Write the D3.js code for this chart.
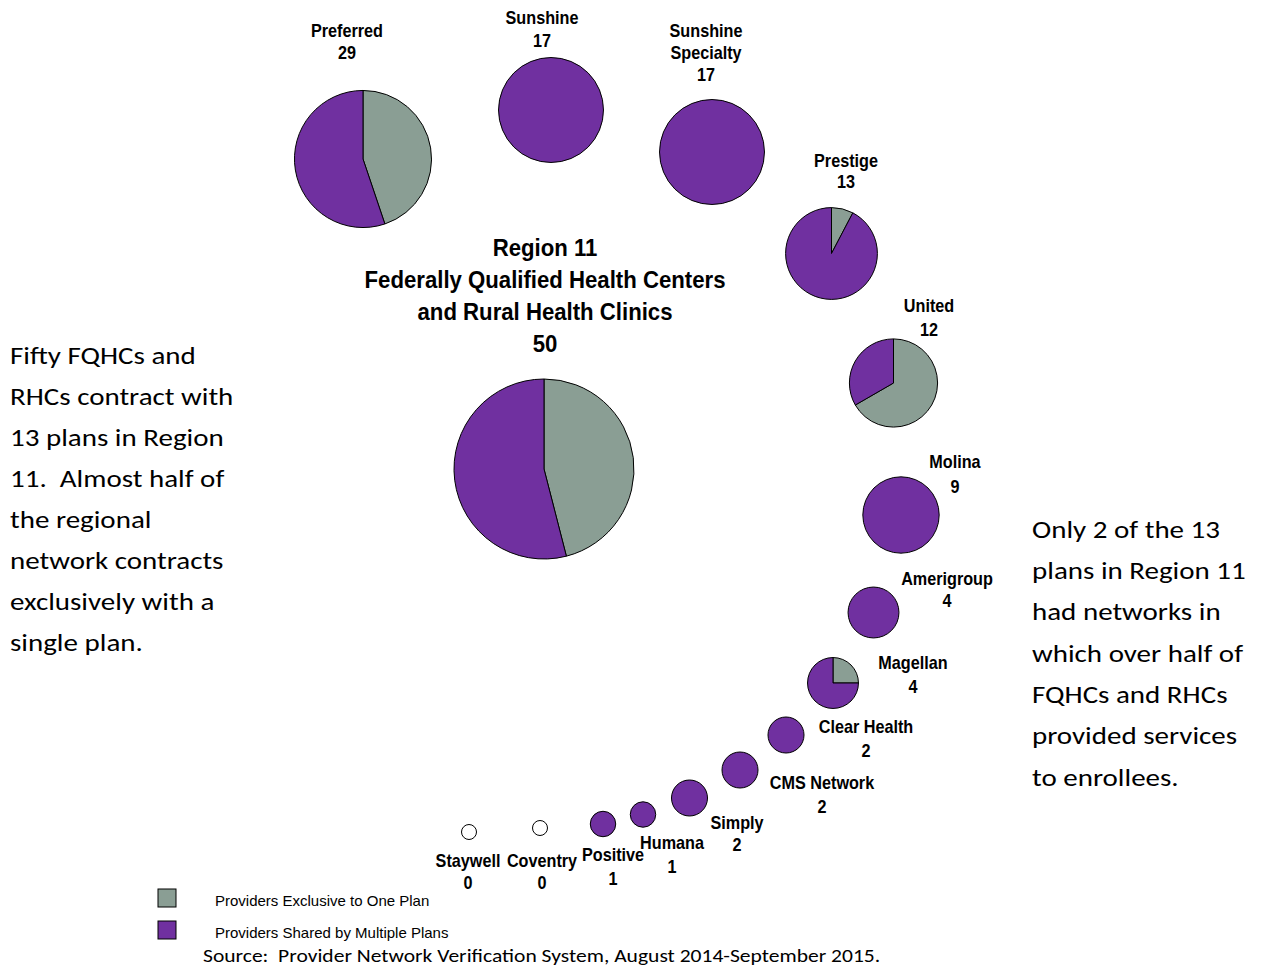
<!DOCTYPE html>
<html><head><meta charset="utf-8">
<script src="https://cdn.jsdelivr.net/npm/d3@7"></script>
<style>
html,body{margin:0;padding:0;background:#fff;}
svg{display:block;}
text{white-space:pre;}
.lbl{font-family:"Liberation Sans Narrow","Arial Narrow","Liberation Sans",sans-serif;font-weight:bold;fill:#000;}
.body{font-family:"Carlito","Calibri","Lato","Open Sans",sans-serif;fill:#000;}
</style></head>
<body>
<script>
// ---- data ----
const plans = ["Region 11","Preferred","Sunshine","Sunshine Specialty","Prestige","United","Molina","Amerigroup","Magellan","Clear Health","CMS Network","Simply","Humana","Positive","Coventry","Staywell"];
const totals = [50,29,17,17,13,12,9,4,4,2,2,2,1,1,0,0];
const exclusive = [23,13,0,0,1,8,0,0,1,0,0,0,0,0,0,0];
const shared = [27,16,17,17,12,4,9,4,3,2,2,2,1,1,0,0];
const legendLabels = ["Providers Exclusive to One Plan","Providers Shared by Multiple Plans"];
const titleLines = ["Region 11","Federally Qualified Health Centers","and Rural Health Clinics","50"];
const leftText = ["Fifty FQHCs and","RHCs contract with","13 plans in Region","11.  Almost half of","the regional","network contracts","exclusively with a","single plan."];
const rightText = ["Only 2 of the 13","plans in Region 11","had networks in","which over half of","FQHCs and RHCs","provided services","to enrollees."];
const sourceText = "Source:  Provider Network Verification System, August 2014-September 2015.";

// ---- layout (pie centres and label anchors, px) ----
const layout = [
  {cx:544,cy:469,lx:547,ly:[248]},
  {cx:363,cy:159,lx:347,ly:[31,53]},
  {cx:551,cy:110,lx:542,ly:[18,41]},
  {cx:712,cy:152,lx:706,ly:[31,53,75]},
  {cx:831.5,cy:253.5,lx:846,ly:[161,182]},
  {cx:893.5,cy:383,lx:929,ly:[306,330]},
  {cx:901,cy:515,lx:955,ly:[462,487]},
  {cx:873.5,cy:612.5,lx:947,ly:[579,601]},
  {cx:833,cy:683,lx:913,ly:[663,687]},
  {cx:786,cy:735,lx:866,ly:[727,751]},
  {cx:740,cy:770,lx:822,ly:[783,807]},
  {cx:689.5,cy:798,lx:737,ly:[823,845]},
  {cx:643,cy:814.5,lx:672,ly:[843,867]},
  {cx:603,cy:824,lx:613,ly:[855,879]},
  {cx:540,cy:828,lx:542,ly:[861,883]},
  {cx:469,cy:832,lx:468,ly:[861,883]}
];

const W=1264,H=971;
const colors = d3.scaleOrdinal().domain(["exclusive","shared"]).range(["#8A9E94","#7030A0"]);
const rScale = d3.scaleSqrt().domain([0,50]).range([0,90]);
const zeroR = 7.5;

const svg = d3.select("body").append("svg").attr("width",W).attr("height",H);

function addText(cls, x, y, size, sx, anchor, t){
  return svg.append("text").attr("class",cls)
    .attr("transform",`translate(${x},${y}) scale(${sx},1)`)
    .attr("text-anchor",anchor).attr("dominant-baseline","central")
    .attr("font-size",size).text(t);
}

const pie = d3.pie().sort(null).value(d=>d.v);

plans.forEach((name,i)=>{
  const L = layout[i];
  const g = svg.append("g").attr("transform",`translate(${L.cx},${L.cy})`);
  const r = totals[i]>0 ? rScale(totals[i]) : zeroR;
  const parts = [{k:"exclusive",v:exclusive[i]},{k:"shared",v:shared[i]}];
  if (totals[i]===0) {
    g.append("circle").attr("r",r).attr("fill","#fff").attr("stroke","#000").attr("stroke-width",1);
  } else {
    const nz = parts.filter(p=>p.v>0);
    if (nz.length===1) {
      g.append("circle").attr("r",r).attr("fill",colors(nz[0].k)).attr("stroke","#000").attr("stroke-width",1);
    } else {
      const arc = d3.arc().innerRadius(0).outerRadius(r);
      g.selectAll("path").data(pie(parts)).join("path")
        .attr("d",arc).attr("fill",d=>colors(d.data.k))
        .attr("stroke","#000").attr("stroke-width",1).attr("stroke-linejoin","round");
    }
  }
  if (i===0) return;
  let lines = name==="Sunshine Specialty" ? ["Sunshine","Specialty"] : [name];
  lines = lines.concat([String(totals[i])]);
  lines.forEach((t,j)=> addText("lbl", L.lx, L.ly[j], 18, 0.9, "middle", t));
});

// title
const titleY = [248,280,312,344];
titleLines.forEach((t,j)=> addText("lbl", 545, titleY[j], 24.5, 0.905, "middle", t));

// notes
leftText.forEach((t,j)=> addText("body", 10, 355+j*41.1, 25, 1.16, "start", t));
rightText.forEach((t,j)=> addText("body", 1032, 529+j*41.3, 25, 1.16, "start", t));

// legend
legendLabels.forEach((t,j)=>{
  const y = 889 + j*32;
  svg.append("rect").attr("x",158).attr("y",y).attr("width",18).attr("height",18)
    .attr("fill",colors(j===0?"exclusive":"shared")).attr("stroke","#000").attr("stroke-width",1);
  svg.append("text").attr("x",215).attr("y",y+11).attr("dominant-baseline","central")
    .attr("font-family","'Liberation Sans Narrow','Arial Narrow','Liberation Sans',sans-serif")
    .attr("font-size",15).attr("fill","#000").text(t);
});

addText("body", 203, 956, 18.5, 1.165, "start", sourceText);
</script>
</body></html>
